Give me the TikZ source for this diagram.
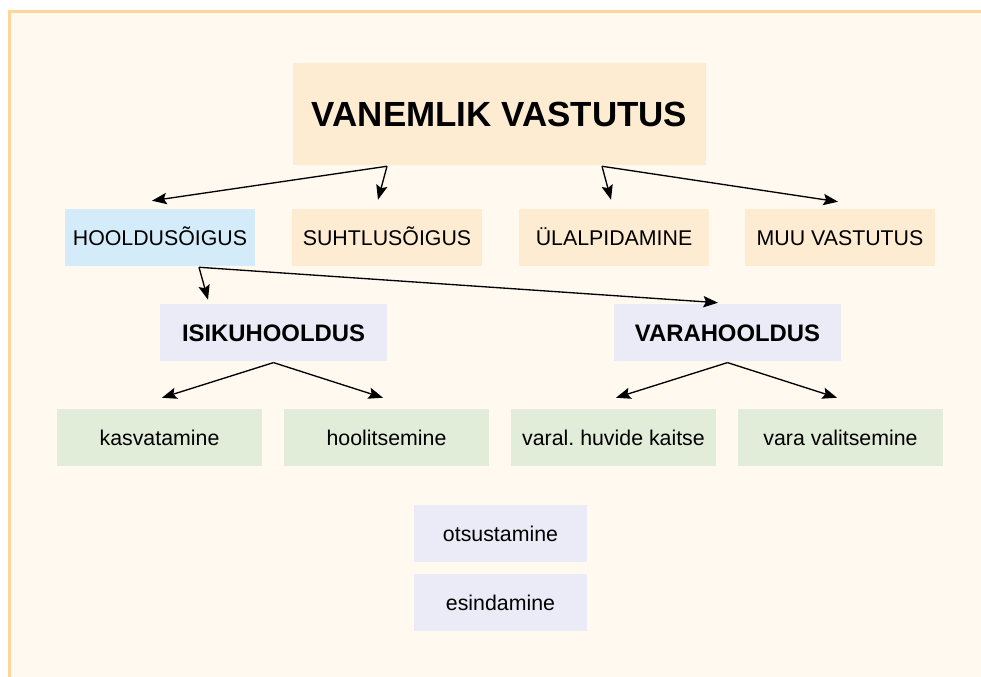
\documentclass[tikz,border=0pt]{standalone}
\usepackage{fontspec}
\setmainfont{Liberation Sans}
\usetikzlibrary{arrows.meta}

\definecolor{pagebg}{HTML}{FFF9F0}
\definecolor{pageline}{HTML}{FFD699}
\definecolor{peach}{HTML}{FDEBD2}
\definecolor{skyblue}{HTML}{D4EBF9}
\definecolor{lavender}{HTML}{EBEAF7}
\definecolor{sage}{HTML}{E1EDD8}

\begin{document}
\begin{tikzpicture}[x=0.75pt, y=-0.75pt, inner sep=0pt,
		box/.style = {minimum width=142.5pt, minimum height=42.75pt, font=\fontsize{16}{19}\selectfont},
		caps/.style = {text height=#1, text depth=0pt},
		duty/.style = {box, caps=11.5pt, fill=peach},
		care/.style = {caps=12.9pt, minimum width=170.25pt, minimum height=42.75pt, fill=lavender, font=\fontsize{17.9}{21}\selectfont\bfseries},
		task/.style = {box, minimum width=153.75pt, fill=sage},
		act/.style = {box, minimum width=129.75pt, fill=lavender},
		arr/.style = {-{Stealth[length=11pt,width=8.5pt,inset=2pt]}, line width=1pt}]
		% page
		\useasboundingbox (0,0) rectangle (981,677);
		\fill[pageline] (8,10) rectangle (981,677);
		\fill[pagebg] (11,13) rectangle (981,677);
		% boxes
		\node[caps=18.9pt, minimum width=309.75pt, minimum height=76.5pt, fill=peach, font=\fontsize{26.2}{30}\selectfont\bfseries] (vastutus) at (499.5,114) {VANEMLIK VASTUTUS};
		\node[box, caps=11.5pt, fill=skyblue] (hooldus) at (160,237.5) {HOOLDUSÕIGUS};
		\node[duty] (suhtlus) at (387,237.5) {SUHTLUSÕIGUS};
		\node[duty] (ylal) at (614,237.5) {ÜLALPIDAMINE};
		\node[duty] (muu) at (840,237.5) {MUU VASTUTUS};
		\node[care] (isiku) at (273.5,332.5) {ISIKUHOOLDUS};
		\node[care] (vara) at (727.5,332.5) {VARAHOOLDUS};
		\node[task] (kasv) at (159.5,437.5) {kasvatamine};
		\node[task] (hool) at (386.5,437.5) {hoolitsemine};
		\node[task] (kaitse) at (613.5,437.5) {varal.\ huvide kaitse};
		\node[task] (valit) at (840.5,437.5) {vara valitsemine};
		\node[act] (otsus) at (500.5,533.5) {otsustamine};
		\node[act] (esind) at (500.5,602.5) {esindamine};
		% arrows
		\draw[arr] ([shift={(-112.5,1)}]vastutus.south) -- ([shift={(-8,-8)}]hooldus.north);
		\draw[arr] ([shift={(-112.5,1)}]vastutus.south) -- ([shift={(-9,-9)}]suhtlus.north);
		\draw[arr] ([shift={(102.5,1)}]vastutus.south) -- ([shift={(-3,-9)}]ylal.north);
		\draw[arr] ([shift={(102.5,1)}]vastutus.south) -- ([shift={(-2,-7)}]muu.north);
		\draw[arr] ([shift={(39,1)}]hooldus.south) -- ([shift={(-65.5,-4)}]isiku.north);
		\draw[arr] ([shift={(39,1)}]hooldus.south) -- ([shift={(-9.5,-1)}]vara.north);
		\draw[arr] ([yshift=-1]isiku.south) -- ([shift={(2.5,-11)}]kasv.north);
		\draw[arr] ([yshift=-1]isiku.south) -- ([shift={(-3.5,-11)}]hool.north);
		\draw[arr] ([yshift=-1]vara.south) -- ([shift={(2.5,-11)}]kaitse.north);
		\draw[arr] ([yshift=-1]vara.south) -- ([shift={(-3.5,-11)}]valit.north);
\end{tikzpicture}
\end{document}
